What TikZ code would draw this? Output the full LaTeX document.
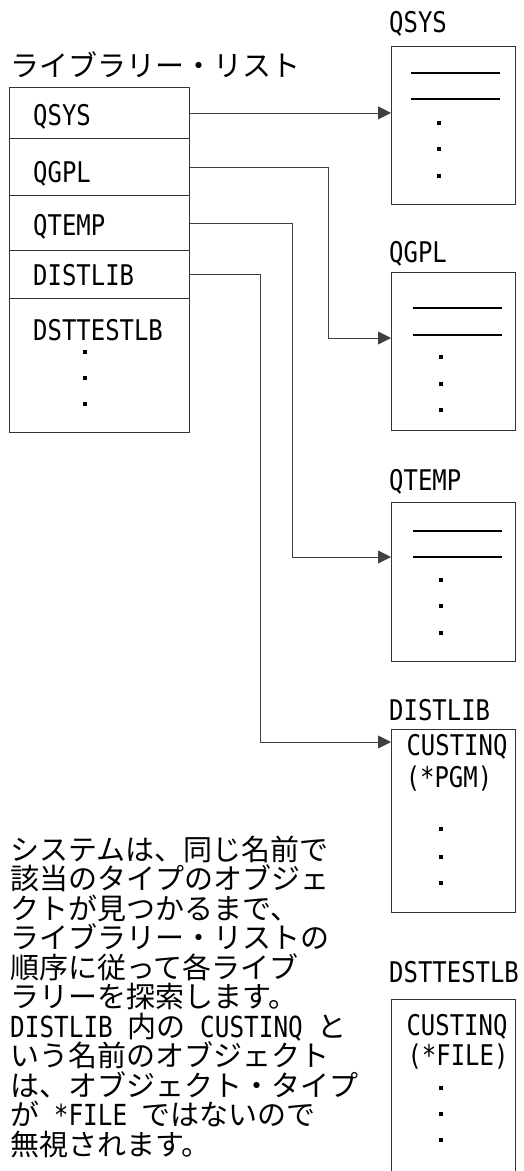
\documentclass[tikz,border=0pt]{standalone}
\usepackage{fontspec}
\setmainfont{Noto Sans CJK JP}
\newfontfamily\jpf{Noto Sans CJK JP}
\newfontfamily\latf[FakeStretch=0.84]{DejaVu Sans Mono}
\newcommand\latx[1]{\smash{\latf #1}}
\usetikzlibrary{arrows.meta,calc}
\begin{document}
\begin{tikzpicture}[x=1pt,y=-1pt,
  frame/.style={draw=black!80, line width=0.8pt, inner sep=0pt, anchor=north west, minimum width=#1},
  frame/.default=180pt,
  lab/.style={font=\latf\fontsize{28.5}{30}\selectfont, anchor=base west, inner sep=0pt},
  ctr/.style={font=\latf\fontsize{28.5}{30}\selectfont, anchor=base, inner sep=0pt},
  jp/.style={font=\jpf\fontsize{29}{30}\selectfont, anchor=base west, inner sep=0pt},
  conn/.style={draw=black!75, line width=0.8pt, -{Triangle[length=13pt,width=13pt]}},
  rule/.style={draw=black, line width=1.7pt},
  dotsq/.style={fill=black}
]
\useasboundingbox (0,0) rectangle (523,1171);

% title
\node[jp] (title) at (10,76) {ライブラリー・リスト};

% library list rows
\node[frame, minimum height=51pt] (rqsys) at (9,87) {};
\node[frame, minimum height=57pt] (rqgpl) at (9,138) {};
\node[frame, minimum height=55pt] (rqtemp) at (9,195) {};
\node[frame, minimum height=48pt] (rdist) at (9,250) {};
\node[frame, minimum height=134pt] (rdst) at (9,298) {};

\node[lab] (tqsys) at (33,125) {QSYS};
\node[lab] (tqgpl) at (33,182) {QGPL};
\node[lab] (tqtemp) at (33,235) {QTEMP};
\node[lab] (tdist) at (33,285) {DISTLIB};
\node[lab] (tdst) at (33,340) {DSTTESTLB};
\foreach \yy in {352,378,404} \fill[dotsq] (83.4,\yy-1.6) rectangle ++(3.2,3.2);

% libraries
\node[lab] (hqsys) at (389,32) {QSYS};
\node[frame=124pt, minimum height=158pt] (lqsys) at (391,46) {};
\node[lab] (hqgpl) at (389,262) {QGPL};
\node[frame=124pt, minimum height=158pt] (lqgpl) at (391,272) {};
\node[lab] (hqtemp) at (389,490) {QTEMP};
\node[frame=124pt, minimum height=159pt] (lqtemp) at (391,502) {};
\node[lab] (hdist) at (389,720) {DISTLIB};
\node[frame=124pt, minimum height=183pt] (ldist) at (391,729) {};
\node[lab] (hdst) at (389,982) {DSTTESTLB};
\node[frame=124pt, draw=none, minimum height=172pt] (ldst) at (391,999) {};
\draw[black!80, line width=0.8pt] (ldst.south west) -- (ldst.north west) -- (ldst.north east) -- (ldst.south east);

% contents of QSYS
\draw[rule] (411,73) -- (500,73);
\draw[rule] (411,99) -- (500,99);
\foreach \yy in {123,149,176} \fill[dotsq] (437.4,\yy-1.6) rectangle ++(3.2,3.2);
% contents of QGPL
\draw[rule] (413,308) -- (502,308);
\draw[rule] (413,335) -- (502,335);
\foreach \yy in {357,384,410} \fill[dotsq] (439.4,\yy-1.6) rectangle ++(3.2,3.2);
% contents of QTEMP
\draw[rule] (413,531) -- (502,531);
\draw[rule] (413,557) -- (502,557);
\foreach \yy in {580,606,633} \fill[dotsq] (439.4,\yy-1.6) rectangle ++(3.2,3.2);
% contents of DISTLIB
\node[ctr] (o1) at (457,755) {CUSTINQ};
\node[ctr] (o1t) at (449,787) {(*PGM)};
\foreach \yy in {829,857,883} \fill[dotsq] (439.4,\yy-1.6) rectangle ++(3.2,3.2);
% contents of DSTTESTLB
\node[ctr] (o2) at (457,1035) {CUSTINQ};
\node[ctr] (o2t) at (458,1065) {(*FILE)};
\foreach \yy in {1088,1114,1140} \fill[dotsq] (439.4,\yy-1.6) rectangle ++(3.2,3.2);

% connectors
\draw[conn] (rqsys.east) -- (rqsys.east -| lqsys.west);
\draw[conn] (rqgpl.east) -- ++(139,0) |- ($(lqgpl.north west)+(0,66)$);
\draw[conn] (rqtemp.east) -- ++(103,0) |- ($(lqtemp.north west)+(0,55)$);
\draw[conn] (rdist.east) -- ++(71,0) |- ($(ldist.north west)+(0,13)$);

% explanatory note
\foreach \t [count=\i from 0] in {
  {システムは、同じ名前で},
  {該当のタイプのオブジェ},
  {クトが見つかるまで、},
  {ライブラリー・リストの},
  {順序に従って各ライブ},
  {ラリーを探索します。},
  {\latx{DISTLIB\ }内の\latx{\ CUSTINQ\ }と},
  {いう名前のオブジェクト},
  {は、オブジェクト・タイプ},
  {が\latx{\ *FILE\ }ではないので},
  {無視されます。}}
  \node[jp] (note\i) at (10,860+29.5*\i) {\t};
\end{tikzpicture}
\end{document}
